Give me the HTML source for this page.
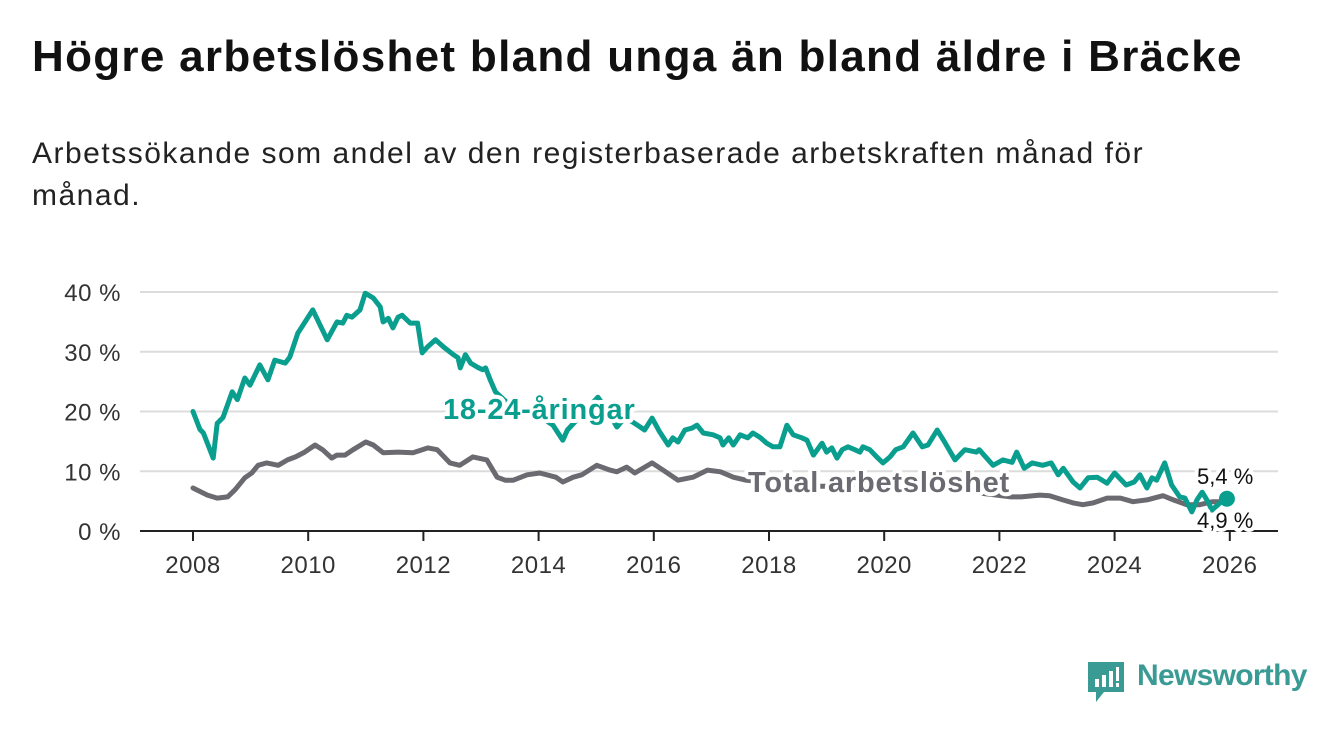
<!DOCTYPE html>
<html><head><meta charset="utf-8">
<style>
body{margin:0;width:1340px;height:734px;background:#fff;font-family:"Liberation Sans",sans-serif;overflow:hidden;position:relative}
h1{position:absolute;left:32px;top:32px;margin:0;font-size:44px;font-weight:bold;color:#111;letter-spacing:1.3px;white-space:nowrap}
.sub{position:absolute;left:32px;top:133px;width:1200px;font-size:30px;line-height:42px;color:#222;letter-spacing:1.5px}
svg{position:absolute;left:0;top:0}
.logo{position:absolute;left:1088px;top:662px}
.logo-text{position:absolute;left:1137px;top:659px;font-size:30px;color:#3a9b95;font-weight:bold;letter-spacing:-0.7px}
</style></head><body>
<h1>Högre arbetslöshet bland unga än bland äldre i Bräcke</h1>
<div class="sub">Arbetssökande som andel av den registerbaserade arbetskraften månad för månad.</div>
<svg id="chart" width="1340" height="734"></svg>
<svg class="logo" width="36" height="40">
<path d="M0 0H36V30H16L8 40V30H0Z" fill="#3a9b95"/>
<rect x="7" y="17" width="4" height="8" fill="#fff"/><rect x="14" y="13" width="4" height="12" fill="#fff"/><rect x="21" y="9" width="4" height="16" fill="#fff"/><rect x="28" y="5" width="3" height="14" fill="#fff"/><rect x="28" y="21" width="3" height="4" fill="#fff"/>
</svg>
<div class="logo-text">Newsworthy</div>
<script>
const yearTicks=[2008,2010,2012,2014,2016,2018,2020,2022,2024,2026];
const yTicks=[0,10,20,30,40];
const youthDates=[2008,2008.12,2008.18,2008.35,2008.42,2008.52,2008.68,2008.77,2008.9,2008.99,2009.16,2009.3,2009.42,2009.6,2009.68,2009.82,2010.08,2010.33,2010.5,2010.6,2010.67,2010.76,2010.9,2010.99,2011.13,2011.25,2011.3,2011.39,2011.47,2011.56,2011.63,2011.77,2011.9,2011.98,2012.07,2012.21,2012.35,2012.52,2012.6,2012.64,2012.73,2012.82,2012.94,2013.03,2013.08,2013.16,2013.25,2013.45,2013.65,2013.85,2014.05,2014.25,2014.42,2014.5,2014.75,2015.03,2015.2,2015.36,2015.5,2015.67,2015.84,2015.97,2016.1,2016.25,2016.33,2016.42,2016.54,2016.66,2016.75,2016.86,2017.03,2017.15,2017.2,2017.3,2017.38,2017.5,2017.63,2017.72,2017.84,2017.96,2018.07,2018.19,2018.31,2018.42,2018.57,2018.66,2018.77,2018.92,2019.0,2019.09,2019.18,2019.27,2019.37,2019.49,2019.58,2019.63,2019.75,2019.87,2019.98,2020.1,2020.2,2020.33,2020.5,2020.66,2020.76,2020.92,2021.06,2021.23,2021.4,2021.6,2021.65,2021.89,2022.06,2022.22,2022.3,2022.43,2022.57,2022.75,2022.9,2023.02,2023.11,2023.28,2023.4,2023.54,2023.7,2023.87,2024.0,2024.2,2024.34,2024.44,2024.56,2024.65,2024.73,2024.87,2024.99,2025.13,2025.22,2025.34,2025.43,2025.52,2025.62,2025.69,2025.83,2025.95];
const youthValues=[20,17,16.4,12.2,18,19,23.3,22,25.6,24.4,27.8,25.3,28.6,28.1,29.1,33.1,37,32,35,34.8,36.1,35.8,37,39.8,39,37.5,35,35.6,34,35.8,36.1,34.8,34.8,29.8,30.8,32,30.8,29.5,29,27.3,29.5,28.1,27.4,27,27.3,25.3,23.3,21.5,20.5,20,19,17.7,15.2,16.9,19.5,22.4,20,17.4,19,18,16.9,18.9,16.6,14.4,15.6,14.9,16.9,17.2,17.7,16.4,16.1,15.6,14.4,15.6,14.4,16.1,15.6,16.4,15.7,14.7,14.1,14.1,17.7,16.1,15.6,15.2,12.7,14.7,13.2,13.9,12.2,13.6,14.1,13.6,13.2,14.1,13.6,12.4,11.4,12.4,13.6,14.1,16.4,14.1,14.4,16.9,14.7,11.9,13.6,13.2,13.6,11,11.9,11.5,13.2,10.5,11.4,11,11.4,9.4,10.5,8.2,7.2,8.9,9,8,9.7,7.7,8.2,9.4,7.2,8.9,8.5,11.4,7.7,5.7,5.5,3.2,5.2,6.5,4.9,3.5,4.7,5.4];
const totalDates=[2008,2008.25,2008.42,2008.6,2008.73,2008.9,2009.02,2009.13,2009.28,2009.48,2009.64,2009.78,2009.94,2010.12,2010.25,2010.41,2010.5,2010.64,2010.78,2011.0,2011.13,2011.3,2011.56,2011.82,2012.08,2012.24,2012.46,2012.63,2012.86,2013.1,2013.28,2013.42,2013.56,2013.8,2014.02,2014.3,2014.42,2014.6,2014.75,2015.01,2015.24,2015.36,2015.53,2015.67,2015.97,2016.16,2016.42,2016.68,2016.93,2017.16,2017.38,2017.6,2017.9,2018.2,2018.5,2018.8,2019.1,2019.4,2019.7,2020.0,2020.3,2020.6,2020.9,2021.2,2021.5,2021.8,2022.2,2022.38,2022.7,2022.87,2023.1,2023.28,2023.45,2023.63,2023.87,2024.1,2024.32,2024.56,2024.84,2025.02,2025.25,2025.48,2025.7,2025.95];
const totalValues=[7.2,6,5.5,5.7,6.9,8.9,9.7,11,11.4,11,11.9,12.4,13.2,14.4,13.6,12.2,12.7,12.7,13.6,14.9,14.4,13.1,13.2,13.1,13.9,13.6,11.4,11,12.4,11.9,9,8.5,8.5,9.4,9.7,9,8.2,9,9.4,11,10.2,9.9,10.7,9.7,11.4,10.2,8.5,9,10.2,9.9,9,8.5,8.2,8,7.8,7.5,7.5,7.8,7.5,7,7,8,7.6,7,6.5,6.2,5.7,5.7,6,5.9,5.2,4.7,4.4,4.7,5.5,5.5,4.9,5.2,5.9,5.2,4.4,4.4,4.9,4.9];

const svg=document.getElementById('chart');
const NS='http://www.w3.org/2000/svg';
const X=y=>193+(y-2008)*57.6;
const Y=v=>531-v*5.975;
function mk(tag,attrs,parent){const e=document.createElementNS(NS,tag);for(const k in attrs)e.setAttribute(k,attrs[k]);(parent||svg).appendChild(e);return e;}
yTicks.forEach(v=>{
  if(v>0){const g=mk('line',{x1:140,x2:1278,y1:Y(v),y2:Y(v),stroke:'#dcdcdc','stroke-width':2});
  
  }
  const t=mk('text',{x:121,y:Y(v)+9,'text-anchor':'end','font-size':24,fill:'#333','letter-spacing':0.5});t.textContent=v+' %';
  
  
});
const ax=mk('line',{x1:140,x2:1278,y1:531,y2:531,stroke:'#222','stroke-width':2});


yearTicks.forEach(yr=>{
  const tk=mk('line',{x1:X(yr),x2:X(yr),y1:531,y2:541,stroke:'#222','stroke-width':2});
  
  
  const t=mk('text',{x:X(yr),y:573,'text-anchor':'middle','font-size':24,fill:'#333','letter-spacing':0.5});t.textContent=yr;
  
  
});
function line(d,v,col,name){
  const p=mk('path',{d:d.map((x,i)=>(i?'L':'M')+X(x).toFixed(1)+' '+Y(v[i]).toFixed(1)).join(''),fill:'none',stroke:col,'stroke-width':5,'stroke-linejoin':'round','stroke-linecap':'round'});
  
  
}
line(totalDates,totalValues,'#6b6a70','total-line');
line(youthDates,youthValues,'#0a9e8f','youth-line');
const lt=totalDates.length-1, ly=youthDates.length-1;
const dot=mk('circle',{cx:X(youthDates[ly]),cy:Y(youthValues[ly]),r:8,fill:'#0a9e8f'});


function label(x,y,txt,col,size,bold,name,ls){
  const t=mk('text',{x:x,y:y,'font-size':size,'font-weight':bold?'bold':'normal',fill:col,stroke:'#fff','stroke-width':8,'paint-order':'stroke','stroke-linejoin':'round','letter-spacing':ls||0});
  t.textContent=txt;
  
  
}
label(443,419,'18-24-åringar','#0a9e8f',29,true,'youth-series-label',0.8);
label(748,492,'Total arbetslöshet','#6b6a70',29,true,'total-series-label',0.8);
label(1197,484,youthValues[ly].toFixed(1).replace('.',',')+' %','#111',22,false,'youth-end-value');
label(1197,528,totalValues[lt].toFixed(1).replace('.',',')+' %','#111',22,false,'total-end-value');
</script>
</body></html>
